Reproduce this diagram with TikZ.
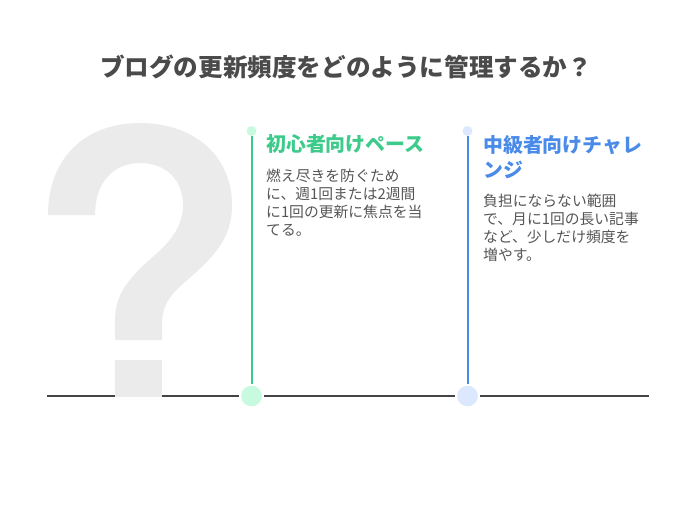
\documentclass[tikz,border=0pt]{standalone}
\usepackage{fontspec}
\setmainfont{Noto Sans CJK JP}
\usetikzlibrary{positioning}
\definecolor{titlegray}{HTML}{4A4A4A}
\definecolor{bodygray}{HTML}{555555}
\definecolor{axisgray}{HTML}{444444}
\definecolor{qgray}{HTML}{EBEBEB}
\definecolor{paceGreen}{HTML}{3CCB8A}
\definecolor{paceLight}{HTML}{C8FAE0}
\definecolor{chalBlue}{HTML}{4A8BEA}
\definecolor{chalLight}{HTML}{DCE8FD}
\tikzset{
    heading/.style = {
        anchor = west, inner sep = 0pt, align = left,
        font = \fontsize{19.9}{25}\selectfont\bfseries
    },
    body/.style = {
        anchor = north west, inner sep = 0pt, align = left,
        text = bodygray,
        font = \fontsize{14.8}{18}\selectfont
    },
    stem/.style = {line width = 2pt},
    knob/.style = {circle, inner sep = 0pt, minimum size = 10pt},
    dot/.style = {circle, inner sep = 0pt, minimum size = 23pt, draw = white, line width = 2pt}
}

\begin{document}
\begin{tikzpicture}[x=1pt, y=-1pt]

    % Canvas
    \useasboundingbox (0,0) rectangle (696,504);

    % Title
    \node[font=\fontsize{24.6}{30}\selectfont\bfseries, text=titlegray, inner sep=0pt] (title) at (346,67) {ブログの更新頻度をどのように管理するか？};

    % Timeline
    \coordinate (lineL) at (47,396);
    \coordinate (lineR) at (649,396);
    \draw[axisgray, line width=2pt] (lineL) -- (lineR);

    % Question mark
    \fill[qgray] (48,215) -- (95,215)
        .. controls (95,183) and (113,163) .. (140,163)
        .. controls (166,163) and (183,180) .. (183,205)
        .. controls (183,225) and (172,240) .. (155,255)
        .. controls (128,278) and (115,295) .. (115,320)
        -- (115,340) -- (162,340) -- (162,325)
        .. controls (162,305) and (170,295) .. (185,282)
        .. controls (215,256) and (232,238) .. (232,205)
        .. controls (232,155) and (193,123) .. (140,123)
        .. controls (85,123) and (48,158) .. (48,215) -- cycle;
    \fill[qgray] (115,360) rectangle (162,397);

    % Pace
    \node[knob, fill=paceLight] (paceTop) at (251.5,131) {};
    \node[dot, fill=paceLight] (paceDot) at (251.5,396) {};
    \draw[stem, paceGreen] (paceTop.south) -- (paceDot.north);
    \node[heading, text=paceGreen] (paceHead) at (266,144) {初心者向けペース};
    \node[body] (paceBody) at (266,169) {燃え尽きを防ぐため\\に、週1回または2週間\\に1回の更新に焦点を当\\てる。};

    % Challenge
    \node[knob, fill=chalLight] (chalTop) at (467.5,131) {};
    \node[dot, fill=chalLight] (chalDot) at (467.5,396) {};
    \draw[stem, chalBlue] (chalTop.south) -- (chalDot.north);
    \node[heading, text=chalBlue] (chalHead) at (483,157.5) {中級者向けチャレ\\ンジ};
    \node[body] (chalBody) at (483,194) {負担にならない範囲\\で、月に1回の長い記事\\など、少しだけ頻度を\\増やす。};

\end{tikzpicture}
\end{document}
